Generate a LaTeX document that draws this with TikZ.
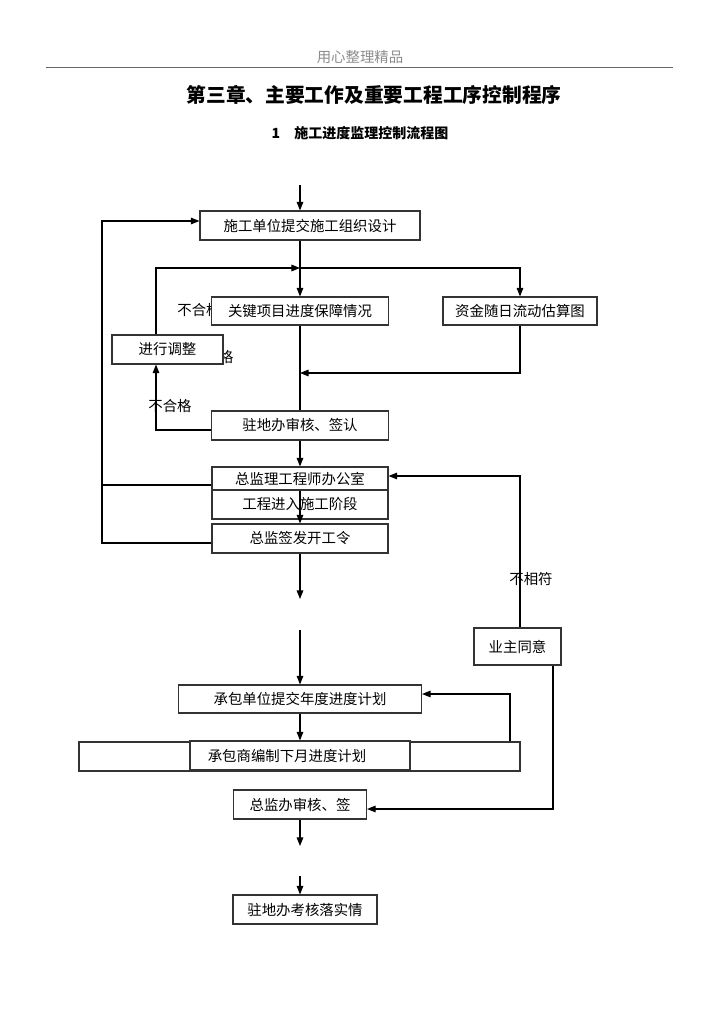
\documentclass[tikz,border=0pt]{standalone}
\usepackage{fontspec}
\usepackage{tikz}
\usetikzlibrary{arrows.meta}
\newfontfamily\cjk{Noto Sans CJK SC}

\tikzset{
	blk/.style={draw=black!80, line width=0.85pt, fill=white, inner sep=0pt,
		font=\cjk\fontsize{10.8pt}{13pt}\selectfont},
	flow/.style={draw=black, line width=0.8pt, -{Triangle[length=6.5pt,width=5pt]}},
	wire/.style={draw=black, line width=0.8pt},
	lbl/.style={inner sep=0pt, font=\cjk\fontsize{10.8pt}{13pt}\selectfont}
}

\begin{document}
\begin{tikzpicture}[x=0.75pt, y=-0.75pt]
	\useasboundingbox (0,0) rectangle (724,1024);
	
	% page head
	\node[lbl, text=black!45] (head) at (360,57) {用心整理精品};
	\draw[black!60, line width=0.5pt] (46,67) -- (673,67);
	\node[inner sep=0pt, font=\cjk\bfseries\fontsize{14.8pt}{17pt}\selectfont] (title) at (374,95) {第三章、主要工作及重要工程工序控制程序};
	\node[inner sep=0pt, font=\cjk\bfseries\fontsize{10.5pt}{13pt}\selectfont] (sub) at (360,133) {1\hspace{1em}施工进度监理控制流程图};
	
	% labels hidden partly behind boxes
	\node[lbl] (ng1) at (199,310) {不合格};
	\node[lbl] (ng2) at (212,357) {不合格};
	\node[lbl] (ng3) at (170,406) {不合格};
	
	% boxes
	\node[blk, minimum width=220*0.75pt, minimum height=29*0.75pt] (design) at (310,225.5) {施工单位提交施工组织设计};
	\node[blk, minimum width=177*0.75pt, minimum height=28*0.75pt] (key) at (300,311) {关键项目进度保障情况};
	\node[blk, minimum width=154*0.75pt, minimum height=28*0.75pt] (fund) at (520,311) {资金随日流动估算图};
	\node[blk, minimum width=111*0.75pt, minimum height=29*0.75pt] (adjust) at (167.5,349.5) {进行调整};
	\node[blk, minimum width=177*0.75pt, minimum height=29*0.75pt] (site) at (300,425.5) {驻地办审核、签认};
	\node[blk, minimum width=176*0.75pt, minimum height=23*0.75pt] (chief) at (300,478.5) {总监理工程师办公室};
	\node[blk, minimum width=176*0.75pt, minimum height=29*0.75pt] (stage) at (300,504.5) {工程进入施工阶段};
	\node[blk, minimum width=176*0.75pt, minimum height=29*0.75pt] (order) at (300,538.5) {总监签发开工令};
	\node[blk, minimum width=87*0.75pt, minimum height=37*0.75pt] (owner) at (517.5,646.5) {业主同意};
	\node[blk, minimum width=243*0.75pt, minimum height=28*0.75pt] (year) at (300,699) {承包单位提交年度进度计划};
	\node[blk, minimum width=441*0.75pt, minimum height=29*0.75pt] (band) at (299.5,756.5) {};
	\node[blk, minimum width=220*0.75pt, minimum height=29*0.75pt] (month) at (300,755.5) {承包商编制下月进度计划\hspace*{19.5pt}};
	\node[blk, minimum width=133*0.75pt, minimum height=29*0.75pt] (check) at (300,804.5) {总监办审核、签};
	\node[blk, minimum width=144*0.75pt, minimum height=29*0.75pt] (done) at (305,909.5) {驻地办考核落实情};
	
	% free ends and bends
	\coordinate (start) at (300,185);
	\coordinate (jn) at (300,268);
	\coordinate (ret) at (156,268);
	\coordinate (mrg) at (300,373);
	\coordinate (loopL) at (102,221);
	\coordinate (gapA) at (300,599);
	\coordinate (gapB) at (300,630);
	\coordinate (up) at (520,476);
	\coordinate (rt) at (510,694);
	\coordinate (dn) at (553,809);
	\coordinate (gapC) at (300,846);
	\coordinate (gapD) at (300,876);
	
	% connectors
	\draw[flow] (start) -- (start |- design.north);
	\draw[wire] (jn |- design.south) -- (jn);
	\draw[flow] (jn) -- (key.north);
	\draw[flow] (jn) -| (fund.north);
	\draw[flow] (adjust.north -| ret) -- (ret) -- (jn);
	\draw[wire] (key.south) -- (site.north);
	\draw[flow] (fund.south) |- (mrg);
	\draw[flow] (site.west |- 0,430) -| (adjust.south -| ret);
	\draw[flow] (site.south) -- (chief.north);
	\draw[flow] (chief.south) -- (order.north);
	\draw[wire] (chief.west |- 0,485) -| (loopL);
	\draw[flow] (order.west |- 0,543) -| (loopL) -- (loopL -| design.west);
	\draw[flow] (order.south) -- (gapA);
	\draw[flow] (gapB) -- (year.north);
	\draw[flow] (owner.north -| up) -- (up) -- (up -| chief.east);
	\node[lbl] (nm) at (531,579) {不相符};
	\draw[flow] (year.south) -- (month.north);
	\draw[flow] (band.north -| rt) -- (rt) -- (rt -| year.east);
	\draw[flow] (owner.south -| dn) -- (dn) -- (dn -| check.east);
	\draw[flow] (check.south) -- (gapC);
	\draw[flow] (gapD) -- (gapD |- done.north);
\end{tikzpicture}
\end{document}
